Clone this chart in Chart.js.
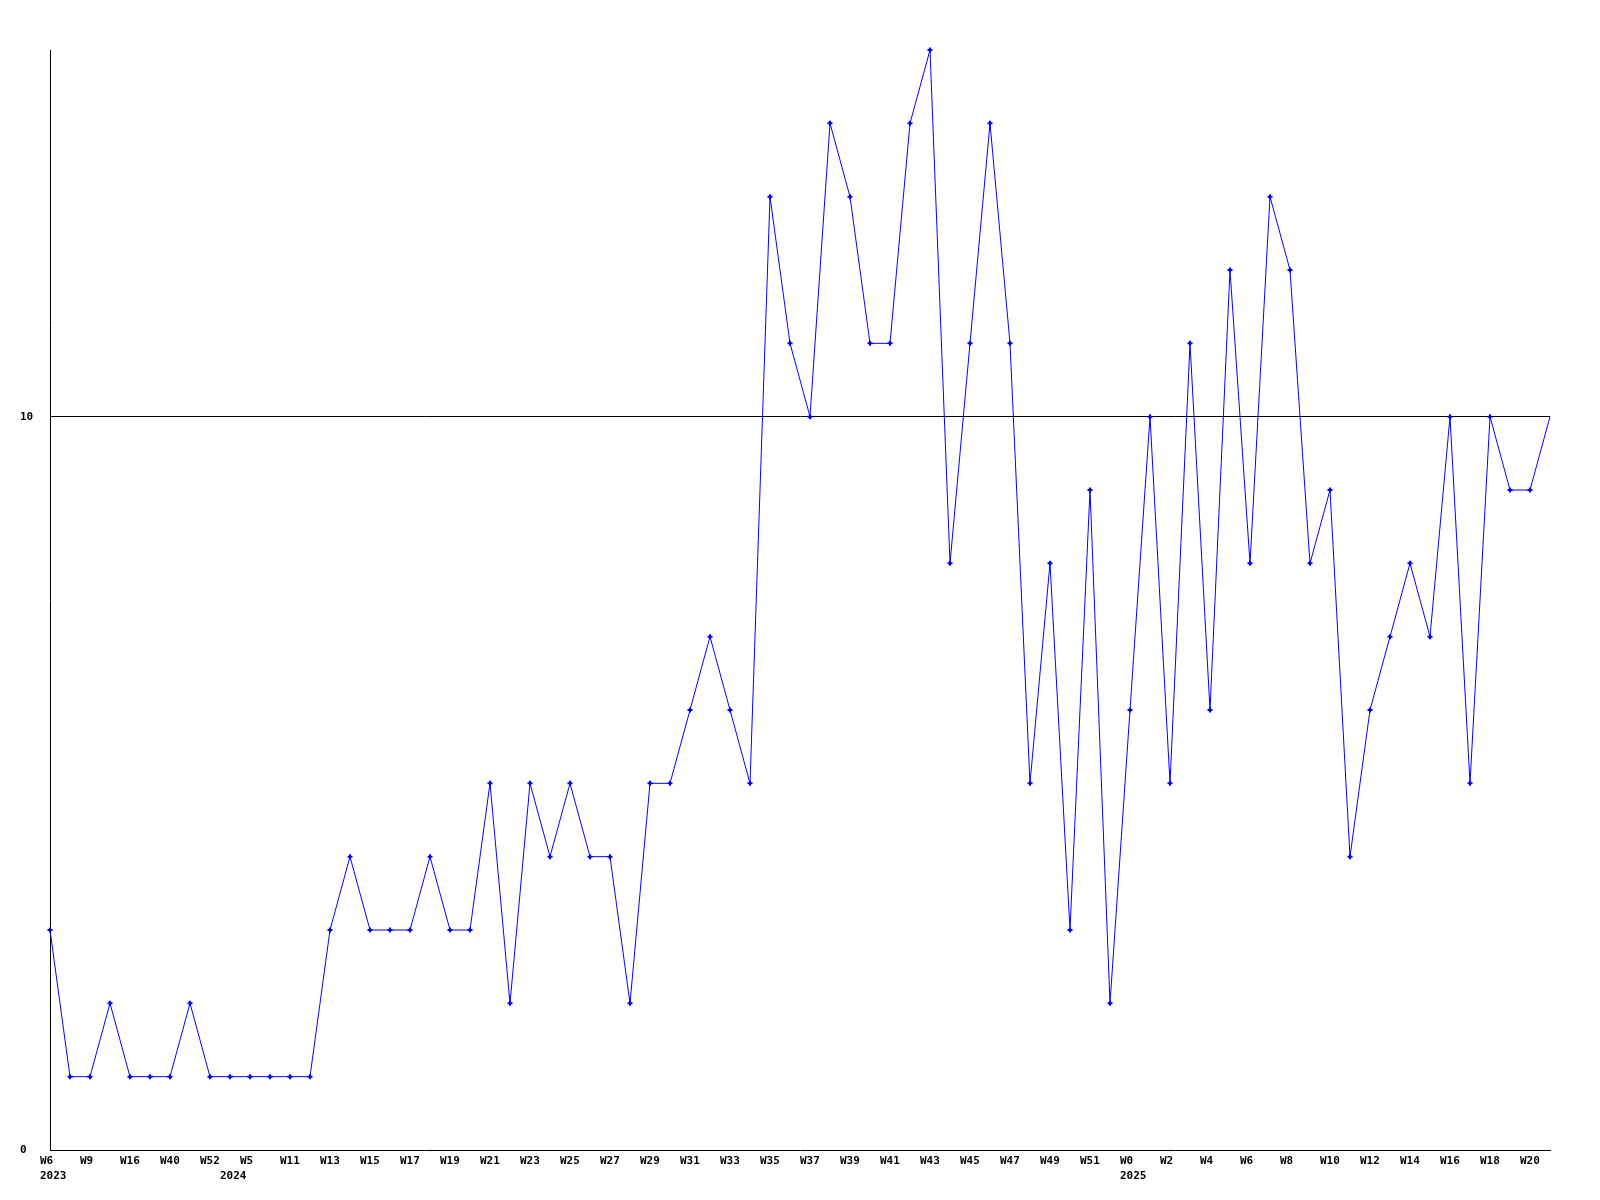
<!DOCTYPE html>
<html lang="en">
<head>
  <meta charset="UTF-8" />
  <title>Weekly count</title>
  <style>
    html, body {
      margin: 0;
      padding: 0;
      background: #fff;
    }
    #wrap {
      width: 1600px;
      height: 1200px;
    }
  </style>
</head>
<body>
  <div id="wrap"><canvas id="chartCanvas" width="1600" height="1200"></canvas></div>

  <script src="https://cdn.jsdelivr.net/npm/chart.js"></script>
  <script>
    // week labels, one per point (only every second one is printed)
    const weeks = [
      'W6', 'W7', 'W9', 'W12', 'W16', 'W30', 'W40', 'W45', 'W52', 'W1',
      'W5', 'W8', 'W11', 'W12', 'W13', 'W14', 'W15', 'W16', 'W17', 'W18',
      'W19', 'W20', 'W21', 'W22', 'W23', 'W24', 'W25', 'W26', 'W27', 'W28',
      'W29', 'W30', 'W31', 'W32', 'W33', 'W34', 'W35', 'W36', 'W37', 'W38',
      'W39', 'W40', 'W41', 'W42', 'W43', 'W44', 'W45', 'W46', 'W47', 'W48',
      'W49', 'W50', 'W51', 'W52', 'W0', 'W1', 'W2', 'W3', 'W4', 'W5',
      'W6', 'W7', 'W8', 'W9', 'W10', 'W11', 'W12', 'W13', 'W14', 'W15',
      'W16', 'W17', 'W18', 'W19', 'W20', 'W21'
    ];

    // index where each year starts
    const yearStarts = [0, 9, 54];
    const years = ['2023', '2024', '2025'];

    const counts = [
      3, 1, 1, 2, 1, 1, 1, 2, 1, 1,
      1, 1, 1, 1, 3, 4, 3, 3, 3, 4,
      3, 3, 5, 2, 5, 4, 5, 4, 4, 2,
      5, 5, 6, 7, 6, 5, 13, 11, 10, 14,
      13, 11, 11, 14, 15, 8, 11, 14, 11, 5,
      8, 3, 9, 2, 6, 10, 5, 11, 6, 12,
      8, 13, 12, 8, 9, 4, 6, 7, 8, 7,
      10, 5, 10, 9, 9, 10
    ];

    const yTicks = [0, 10];
    const yMax = 15;

    const labelFont = { family: '"DejaVu Sans Mono", monospace', size: 11, weight: 'bold', lineHeight: '15px' };

    new Chart(document.getElementById('chartCanvas'), {
      type: 'line',
      data: {
        labels: weeks,
        datasets: [{
          data: counts,
          borderColor: '#0000ff',
          borderWidth: 1,
          backgroundColor: '#0000ff',
          pointBackgroundColor: '#0000ff',
          pointBorderColor: '#0000ff',
          pointStyle: 'cross',
          pointRadius: ctx => ctx.dataIndex === counts.length - 1 ? 0 : 2.5,
          pointBorderWidth: 2,
          tension: 0,
          fill: false,
          clip: false
        }]
      },
      options: {
        responsive: false,
        animation: false,
        devicePixelRatio: 1,
        layout: { padding: { top: 50, right: 50, left: 20, bottom: 0 } },
        plugins: {
          legend: { display: false },
          tooltip: { enabled: false }
        },
        scales: {
          x: {
            offset: false,
            afterFit: s => { s.height = 50; },
            grid: { display: false, drawTicks: false },
            border: { display: true, color: '#000', width: 1 },
            ticks: {
              autoSkip: false,
              maxRotation: 0,
              minRotation: 0,
              align: 'start',
              labelOffset: -10,
              padding: 4,
              color: '#000',
              font: labelFont,
              callback: (val, i) => {
                const w = i % 2 === 0 ? weeks[i] : '';
                const k = yearStarts.indexOf(i);
                const y = k >= 0 ? years[k] : '';
                if (!w && !y) return '';
                return y ? [w, y] : w;
              }
            }
          },
          y: {
            min: 0,
            max: yMax,
            afterFit: s => { s.width = 30; },
            afterBuildTicks: s => { s.ticks = yTicks.map(v => ({ value: v })); },
            grid: {
              drawTicks: false,
              color: ctx => ctx.tick && ctx.tick.value === 10 ? '#000' : 'rgba(0,0,0,0)',
              lineWidth: 1
            },
            border: { display: true, color: '#000', width: 1 },
            ticks: {
              crossAlign: 'far',
              padding: 0,
              color: '#000',
              font: labelFont
            }
          }
        }
      }
    });
  </script>
</body>
</html>
